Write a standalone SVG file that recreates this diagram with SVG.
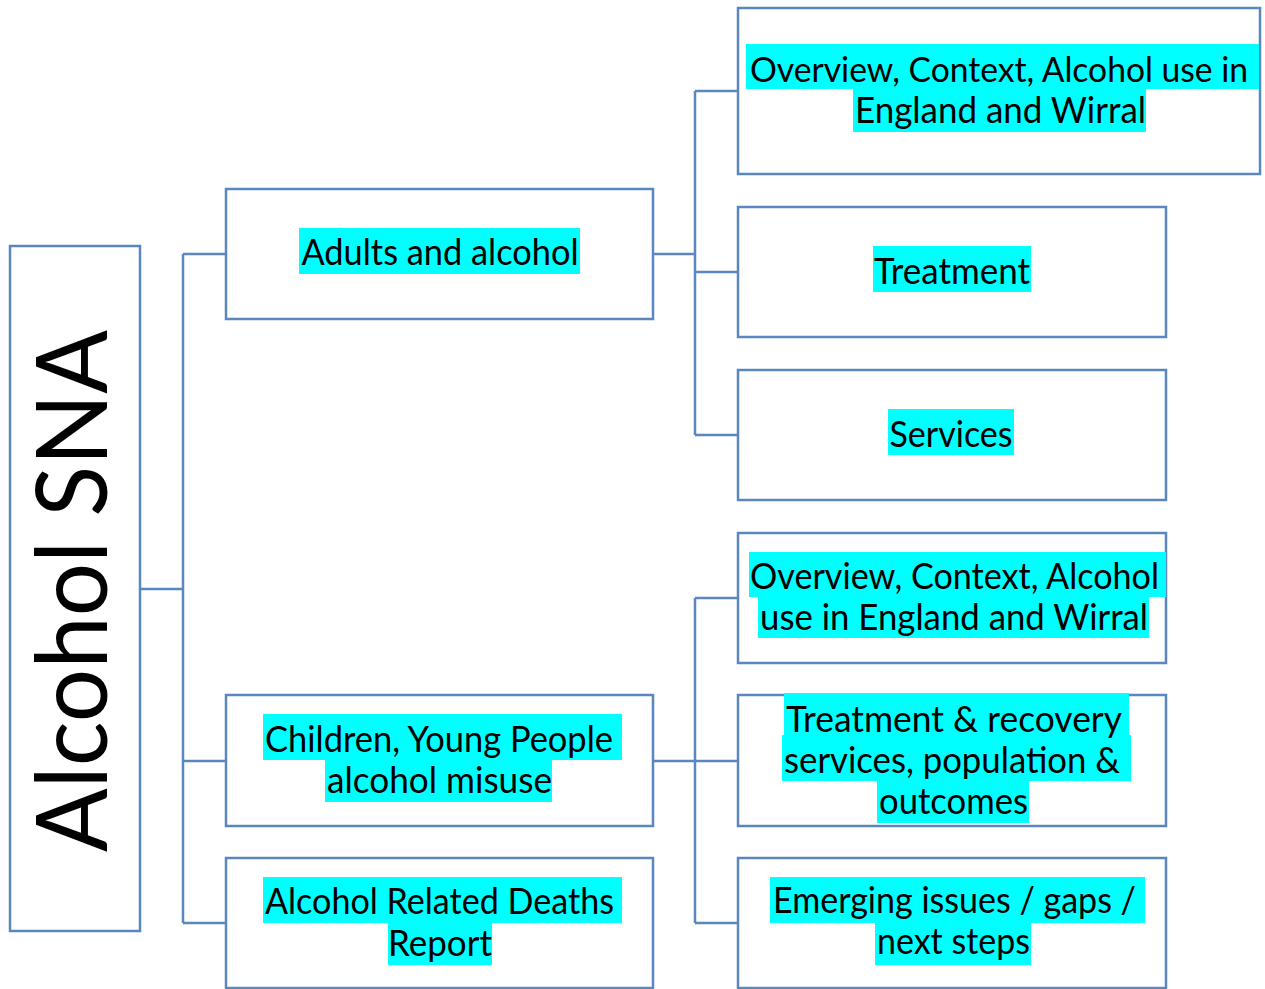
<svg xmlns="http://www.w3.org/2000/svg" width="1265" height="989" viewBox="0 0 1265 989">
<style>
.box{fill:#ffffff;stroke:#5B87C0;stroke-width:2.5}
.conn{fill:none;stroke:#5B87C0;stroke-width:2.5}
.hl{fill:#00FFFF}
.t{font-family:Lato,"Liberation Sans",sans-serif;font-size:36px;fill:#000000;text-anchor:middle}
.root{font-family:Lato,"Liberation Sans",sans-serif;font-size:98px;fill:#000000;text-anchor:middle}
</style>
<rect x="0" y="0" width="1265" height="989" fill="#ffffff"/>
<g id="connectors">
<path class="conn" d="M140,589 H183 M183,254 V923 M183,254 H226 M183,761 H226 M183,923 H226"/>
<path class="conn" d="M653,254 H695 M695,91 V435 M695,91 H738 M695,272 H738 M695,435 H738"/>
<path class="conn" d="M653,761 H695 M695,598 V923 M695,598 H738 M695,761 H738 M695,923 H738"/>
</g>
<g id="node-root">
<rect class="box" x="10" y="246" width="130" height="685"/>
<text class="root" transform="translate(107,591) rotate(-90)" textLength="522" lengthAdjust="spacingAndGlyphs">Alcohol SNA</text>
</g>
<g id="node-adults">
<rect class="box" x="226" y="189" width="427" height="130"/>
<rect class="hl" x="299" y="228" width="281" height="46"/>
<text class="t" x="440" y="265" textLength="277" lengthAdjust="spacingAndGlyphs">Adults and alcohol</text>
</g>
<g id="node-children">
<rect class="box" x="226" y="695" width="427" height="131"/>
<rect class="hl" x="263" y="714" width="359" height="46"/>
<rect class="hl" x="325" y="760" width="227" height="42"/>
<text class="t" x="439" y="752" textLength="348" lengthAdjust="spacingAndGlyphs">Children, Young People</text>
<text class="t" x="439.5" y="793" textLength="225" lengthAdjust="spacingAndGlyphs">alcohol misuse</text>
</g>
<g id="node-deaths">
<rect class="box" x="226" y="858" width="427" height="130"/>
<rect class="hl" x="263" y="877" width="359" height="46"/>
<rect class="hl" x="388" y="923" width="104" height="42"/>
<text class="t" x="439.5" y="914" textLength="349" lengthAdjust="spacingAndGlyphs">Alcohol Related Deaths</text>
<text class="t" x="440" y="956" textLength="104" lengthAdjust="spacingAndGlyphs">Report</text>
</g>
<g id="node-adults-overview">
<rect class="box" x="738" y="8" width="522" height="166"/>
<rect class="hl" x="746" y="44" width="513" height="45"/>
<rect class="hl" x="853" y="89" width="293" height="43"/>
<text class="t" x="999" y="82" font-size="34" style="font-size:34px" textLength="498" lengthAdjust="spacingAndGlyphs">Overview, Context, Alcohol use in</text>
<text class="t" x="1000.5" y="123" textLength="291" lengthAdjust="spacingAndGlyphs">England and Wirral</text>
</g>
<g id="node-adults-treatment">
<rect class="box" x="738" y="207" width="428" height="130"/>
<rect class="hl" x="873" y="246" width="158" height="46"/>
<text class="t" x="952" y="284" textLength="156" lengthAdjust="spacingAndGlyphs">Treatment</text>
</g>
<g id="node-adults-services">
<rect class="box" x="738" y="370" width="428" height="130"/>
<rect class="hl" x="888" y="409" width="126" height="46"/>
<text class="t" x="951" y="447" textLength="123" lengthAdjust="spacingAndGlyphs">Services</text>
</g>
<g id="node-children-overview">
<rect class="box" x="738" y="533" width="428" height="130"/>
<rect class="hl" x="749" y="552" width="417" height="45"/>
<rect class="hl" x="758" y="597" width="391" height="41"/>
<text class="t" x="954.5" y="589" textLength="409" lengthAdjust="spacingAndGlyphs">Overview, Context, Alcohol</text>
<text class="t" x="954" y="630" textLength="388" lengthAdjust="spacingAndGlyphs">use in England and Wirral</text>
</g>
<g id="node-children-treatment">
<rect class="box" x="738" y="695" width="428" height="131"/>
<rect class="hl" x="784" y="693" width="345" height="42"/>
<rect class="hl" x="782" y="735" width="349" height="46"/>
<rect class="hl" x="877" y="781" width="152" height="42"/>
<text class="t" x="954" y="732" textLength="336" lengthAdjust="spacingAndGlyphs">Treatment &amp; recovery</text>
<text class="t" x="952" y="773" textLength="336" lengthAdjust="spacingAndGlyphs">services, population &amp;</text>
<text class="t" x="953.5" y="814" textLength="149" lengthAdjust="spacingAndGlyphs">outcomes</text>
</g>
<g id="node-children-emerging">
<rect class="box" x="738" y="858" width="428" height="130"/>
<rect class="hl" x="770" y="877" width="375" height="46"/>
<rect class="hl" x="875" y="923" width="156" height="42"/>
<text class="t" x="954.5" y="913" textLength="363" lengthAdjust="spacingAndGlyphs">Emerging issues / gaps /</text>
<text class="t" x="953.5" y="954" textLength="153" lengthAdjust="spacingAndGlyphs">next steps</text>
</g>
</svg>
